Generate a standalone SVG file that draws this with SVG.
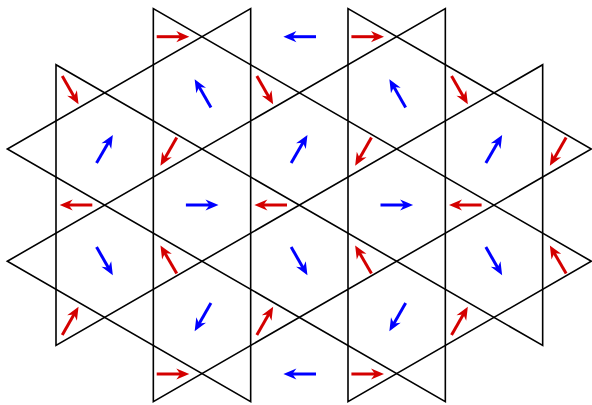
<svg xmlns="http://www.w3.org/2000/svg" xmlns:xlink="http://www.w3.org/1999/xlink" width="592" height="405" viewBox="0 0 592 405">
<style>
.lat{fill:none;stroke:#000;stroke-width:1.6;stroke-linejoin:miter;stroke-miterlimit:6}
.r{color:#d40000}
.b{color:#0000ff}
</style>
<defs>
<g id="arr">
<line x1="-16.3" y1="0" x2="8" y2="0" stroke="currentColor" stroke-width="3"/>
<path d="M16.3,0 L3.3,-5.6 L7.3,0 L3.3,5.6 Z" fill="currentColor"/>
</g>
</defs>
<rect width="592" height="405" fill="#fff"/>
<g id="lattice">
<path class="lat" d="M591.33,261.24 L153.33,8.6 L153.33,401.6 L591.33,148.96 L348,8.6 L348,401.6 Z"/>
<path class="lat" d="M7.33,261.24 L445.33,8.6 L445.33,401.6 L7.33,148.96 L250.67,8.6 L250.67,401.6 Z"/>
<path class="lat" d="M56,64.75 L56,345.45 L542.67,64.75 L542.67,345.45 Z"/>
</g>
<g id="red-arrows" class="r">
<use xlink:href="#arr" transform="translate(173,36.7)"/>
<use xlink:href="#arr" transform="translate(367.7,36.7)"/>
<use xlink:href="#arr" transform="translate(173,374)"/>
<use xlink:href="#arr" transform="translate(367.7,374)"/>
<use xlink:href="#arr" transform="translate(70.4,90.2) rotate(60)"/>
<use xlink:href="#arr" transform="translate(265,90.2) rotate(60)"/>
<use xlink:href="#arr" transform="translate(459.7,90.2) rotate(60)"/>
<use xlink:href="#arr" transform="translate(168.6,151.7) rotate(120)"/>
<use xlink:href="#arr" transform="translate(363.3,151.7) rotate(120)"/>
<use xlink:href="#arr" transform="translate(558,151.7) rotate(120)"/>
<use xlink:href="#arr" transform="translate(76,205) rotate(180)"/>
<use xlink:href="#arr" transform="translate(270.7,205) rotate(180)"/>
<use xlink:href="#arr" transform="translate(465.3,205) rotate(180)"/>
<use xlink:href="#arr" transform="translate(168.6,259.5) rotate(-120)"/>
<use xlink:href="#arr" transform="translate(363.3,259.5) rotate(-120)"/>
<use xlink:href="#arr" transform="translate(558,259.5) rotate(-120)"/>
<use xlink:href="#arr" transform="translate(70.4,320.8) rotate(-60)"/>
<use xlink:href="#arr" transform="translate(265,320.8) rotate(-60)"/>
<use xlink:href="#arr" transform="translate(459.7,320.8) rotate(-60)"/>
</g>
<g id="blue-arrows" class="b">
<use xlink:href="#arr" transform="translate(299.7,36.7) rotate(180)"/>
<use xlink:href="#arr" transform="translate(299.7,374) rotate(180)"/>
<use xlink:href="#arr" transform="translate(202.8,93.3) rotate(-120)"/>
<use xlink:href="#arr" transform="translate(397.5,93.3) rotate(-120)"/>
<use xlink:href="#arr" transform="translate(104.7,149) rotate(-60)"/>
<use xlink:href="#arr" transform="translate(299.3,149) rotate(-60)"/>
<use xlink:href="#arr" transform="translate(494,149) rotate(-60)"/>
<use xlink:href="#arr" transform="translate(202.2,205)"/>
<use xlink:href="#arr" transform="translate(396.8,205)"/>
<use xlink:href="#arr" transform="translate(104.7,261.2) rotate(60)"/>
<use xlink:href="#arr" transform="translate(299.3,261.2) rotate(60)"/>
<use xlink:href="#arr" transform="translate(494,261.2) rotate(60)"/>
<use xlink:href="#arr" transform="translate(202.8,317.2) rotate(120)"/>
<use xlink:href="#arr" transform="translate(397.5,317.2) rotate(120)"/>
</g>
</svg>
